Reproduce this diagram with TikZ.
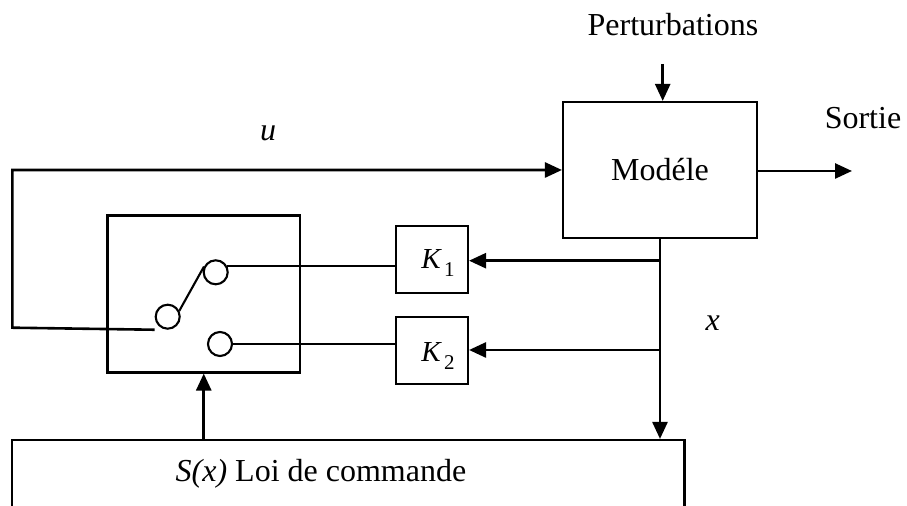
\documentclass[tikz,border=0pt]{standalone}
\usepackage{fontspec}
\setmainfont{Liberation Serif}
\usetikzlibrary{arrows.meta}
\begin{document}
\begin{tikzpicture}[x=0.5pt,y=-0.5pt,
  box/.style={draw,line width=1.05pt,rectangle,inner sep=0pt},
  dot/.style={draw,line width=1.05pt,circle,minimum size=12pt,inner sep=0pt},
  wire/.style={line width=1.05pt},
  arr/.style={line width=1.3pt,-{Triangle[length=8.5pt,width=7.5pt]}},
  lbl/.style={inner sep=0pt,font=\fontsize{16}{19}\selectfont},
  klbl/.style={inner sep=0pt,anchor=base,font=\fontsize{14.5}{16}\selectfont}]
\useasboundingbox (0,0) rectangle (907,506);
\clip (0,0) rectangle (907,506);
% boxes
\node[box,minimum width=97pt,minimum height=68pt] (mod) at (660,170) {};
\node[lbl] (modt) at (660,170) {Modéle};
\node[box,minimum width=96.25pt,minimum height=78.5pt] (sw) at (203.75,294) {};
\node[box,minimum width=36pt,minimum height=33.5pt] (k1) at (432,259.4) {};
\node[box,minimum width=36pt,minimum height=33.5pt] (k2) at (432,350.5) {};
\node[klbl] (k1t) at (438,268.3) {\textit{K}\kern1pt\raisebox{-4pt}{\fontsize{10.5}{10}\selectfont 1}};
\node[klbl] (k2t) at (438,361.7) {\textit{K}\kern1pt\raisebox{-4pt}{\fontsize{10.5}{10}\selectfont 2}};
\node[box,minimum width=336.25pt,minimum height=40pt] (loi) at (348.25,480) {};
\node[lbl,anchor=base] (loit) at (321,481.7) {\textit{S(x)} Loi de commande};
% circles
\node[dot] (c0) at (167.7,316.7) {};
\node[dot] (c1) at (215.7,272.3) {};
\node[dot] (c2) at (220,344) {};
\draw[wire] (c0.27) -- (c1.154);
\draw[wire] (c1.28) -- (c1.28 -| k1.west);
\draw[wire] (c2.east) -- (c2.east -| k2.west);
% input u loop
\coordinate (cl) at (c0.south -| c0.west);
\coordinate (corner1) at (12.3,327.7);
\draw[arr] (cl) -- (corner1) |- (mod.west);
\node[lbl] (ulbl) at (268,133) {\textit{u}};
% perturbations
\coordinate (pert) at (662.7,64);
\draw[arr] (pert) -- (pert |- mod.north);
\node[lbl] (pertt) at (673,25) {Perturbations};
% output
\coordinate (out) at (852,171);
\draw[arr] (mod.east |- out) -- (out);
\node[lbl] (sortie) at (863,118) {Sortie};
% feedback x
\draw[arr] (mod.south) -- (mod.south |- loi.north);
\coordinate (b1) at (660,260.7);
\coordinate (b2) at (660,350);
\draw[arr] (b1) -- (b1 -| k1.east);
\draw[arr] (b2) -- (b2 -| k2.east);
\node[lbl] (xlbl) at (712.7,323) {\textit{x}};
% switch command
\draw[arr] (sw.south |- loi.north) -- (sw.south);
\end{tikzpicture}
\end{document}
